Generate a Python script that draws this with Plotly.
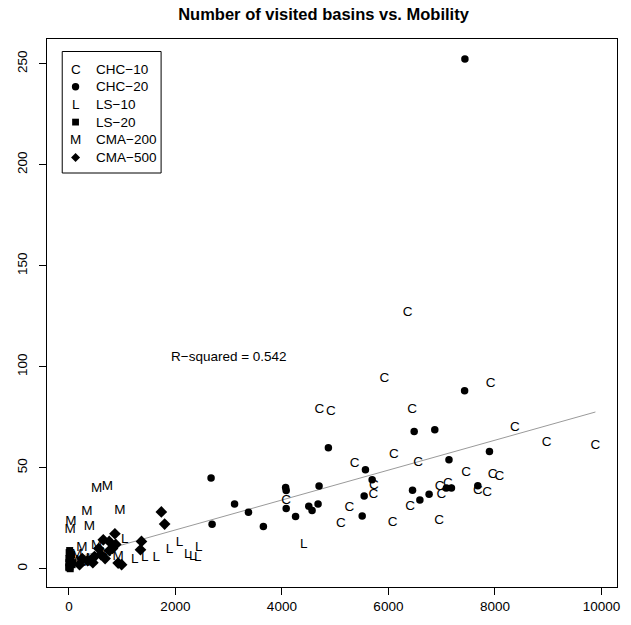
import plotly.graph_objects as go

# ---------------- data ----------------
CHC10_x = [6359, 5924, 7922, 4705, 4922, 6447, 8376, 8973, 9888, 6105, 5364, 6559, 7461, 7959,
           8084, 5725, 5719, 6964, 7119, 6994, 7679, 7853, 6410, 5265, 5108, 6079, 6951, 4081]
CHC10_y = [126.8, 93.9, 91.5, 78.7, 77.8, 78.7, 69.6, 62.2, 61.0, 56.4, 51.8, 52.6, 47.6, 46.5,
           45.7, 41.1, 36.6, 40.7, 42.1, 36.6, 38.6, 37.5, 30.8, 30.0, 22.1, 22.9, 23.7, 33.8]

CHC20_x = [7437, 7431, 6484, 6871, 4873, 2670, 5569, 7138, 7898, 5695, 4698, 4070, 4081, 4081, 4257,
           3111, 3372, 2689, 3652, 4679, 4505, 4567, 6453, 6591, 6764, 7090, 7184, 7679, 5508, 5545]
CHC20_y = [252.3, 88.1, 67.9, 68.8, 59.9, 44.9, 49.0, 53.9, 58.0, 44.0, 40.9, 40.2, 38.7, 29.8, 25.9,
           32.0, 27.9, 22.0, 20.9, 32.0, 30.9, 28.8, 38.9, 34.0, 36.8, 39.9, 39.9, 41.1, 26.1, 36.0]

LS10_x = [4412, 1051, 2078, 2438, 2233, 2326, 1891, 1643, 1238, 1425, 2420]
LS10_y = [12.1, 14.3, 12.7, 10.2, 6.9, 6.1, 9.4, 5.3, 4.5, 5.3, 5.3]

LS20_x = [0, 0, 0, 5, 10, 20, 30, 40, 60, 80, 0, 15, 50, 25]
LS20_y = [1, 3, 5, 8, 2, 1, 4, 6, 2, 3, 0.5, 9, 7, 0]

CMA200_x = [523, 721, 336, 958, 37, 24, 385, 243, 523, 925, 150, 420, 700, 90, 300]
CMA200_y = [39.4, 40.7, 28.1, 28.7, 23.3, 19.3, 20.6, 10.6, 11.4, 6.0, 7, 5, 8, 4, 3]

CMA500_x = [1736, 1798, 864, 646, 758, 1363, 1344, 925, 990, 600, 680, 760, 350, 450, 250,
            880, 820, 560, 480, 200]
CMA500_y = [28.1, 22.1, 17.3, 14.3, 13.5, 13.5, 9.4, 2.8, 2.0, 7, 5, 9, 4, 3, 5,
            12, 10, 10, 6, 2]

FIT_INTERCEPT = 4.4
FIT_SLOPE = 0.0074
R_SQUARED = 0.542

X_TICKS = [0, 2000, 4000, 6000, 8000, 10000]
Y_TICKS = [0, 50, 100, 150, 200, 250]

LEGEND_LABELS = ["CHC\u221210", "CHC\u221220", "LS\u221210", "LS\u221220", "CMA\u2212200", "CMA\u2212500"]

FONT = "Liberation Sans, Arial, Helvetica, sans-serif"
FS = 13.5

# ---------------- figure ----------------
W, H = 631, 625
ML, MR, MT, MB = 47, 11, 39, 38
PW, PH = W - ML - MR, H - MT - MB

fig = go.Figure()

all_x = CHC10_x + CHC20_x + LS10_x + LS20_x + CMA200_x + CMA500_x
fx = [min(all_x), max(all_x)]
fig.add_trace(go.Scatter(x=fx, y=[FIT_INTERCEPT + FIT_SLOPE * v for v in fx], mode="lines",
                         line=dict(color="#9a9a9a", width=1), showlegend=False, hoverinfo="skip"))

def text_trace(xs, ys, ch):
    return go.Scatter(x=xs, y=ys, mode="text", text=[ch] * len(xs), textposition="middle center",
                      textfont=dict(family=FONT, size=FS, color="black"), showlegend=False)

def marker_trace(xs, ys, sym, size):
    return go.Scatter(x=xs, y=ys, mode="markers",
                      marker=dict(symbol=sym, size=size, color="black", line=dict(width=0)),
                      showlegend=False)

fig.add_trace(text_trace(CHC10_x, CHC10_y, "C"))
fig.add_trace(marker_trace(CHC20_x, CHC20_y, "circle", 7.5))
fig.add_trace(text_trace(LS10_x, LS10_y, "L"))
fig.add_trace(marker_trace(LS20_x, LS20_y, "square", 7))
fig.add_trace(text_trace(CMA200_x, CMA200_y, "M"))
fig.add_trace(marker_trace(CMA500_x, CMA500_y, "diamond", 9))

fig.add_annotation(x=3000, y=105, xref="x", yref="y", text=f"R\u2212squared = {R_SQUARED}",
                   showarrow=False, font=dict(family=FONT, size=FS, color="black"))

# ---------------- manual legend ----------------
def px2paper(px, py):
    return (px - ML) / PW, (H - MB - py) / PH

bx0, by0 = px2paper(62.3, 51.5)
bx1, by1 = px2paper(161.7, 173)
fig.add_shape(type="rect", xref="paper", yref="paper", x0=bx0, x1=bx1, y0=by1, y1=by0,
              line=dict(color="black", width=1), fillcolor="white", layer="above")

row_y = [69, 86.7, 104.4, 122.1, 139.8, 157.5]
sym_x = 75.7
txt_x = 94
kinds = ["C", "circle", "L", "square", "M", "diamond"]
for lab, ry, kind in zip(LEGEND_LABELS, row_y, kinds):
    sx, sy = px2paper(sym_x, ry)
    if kind in ("C", "L", "M"):
        fig.add_annotation(x=sx, y=sy, xref="paper", yref="paper", text=kind, showarrow=False,
                           font=dict(family=FONT, size=FS, color="black"),
                           xanchor="center", yanchor="middle")
    elif kind == "circle":
        fig.add_shape(type="circle", xref="paper", yref="paper", xsizemode="pixel", ysizemode="pixel",
                      xanchor=sx, yanchor=sy, x0=-3.7, x1=3.7, y0=-3.7, y1=3.7,
                      fillcolor="black", line=dict(width=0), layer="above")
    elif kind == "square":
        fig.add_shape(type="rect", xref="paper", yref="paper", xsizemode="pixel", ysizemode="pixel",
                      xanchor=sx, yanchor=sy, x0=-3.4, x1=3.4, y0=-3.4, y1=3.4,
                      fillcolor="black", line=dict(width=0), layer="above")
    else:
        fig.add_shape(type="path", xref="paper", yref="paper", xsizemode="pixel", ysizemode="pixel",
                      xanchor=sx, yanchor=sy, path="M -4.5 0 L 0 4.5 L 4.5 0 L 0 -4.5 Z",
                      fillcolor="black", line=dict(width=0), layer="above")
    tx, ty = px2paper(txt_x, ry)
    fig.add_annotation(x=tx, y=ty, xref="paper", yref="paper", text=lab, showarrow=False,
                       font=dict(family=FONT, size=FS, color="black"),
                       xanchor="left", yanchor="middle")

axis_common = dict(showgrid=False, zeroline=False, showline=True, mirror=True, linecolor="black",
                   linewidth=1, ticks="outside", ticklen=7, tickcolor="black", tickwidth=1,
                   tickfont=dict(family=FONT, size=FS, color="black"))

fig.update_layout(
    width=W, height=H,
    margin=dict(l=ML, r=MR, t=MT, b=MB, pad=0),
    paper_bgcolor="white", plot_bgcolor="white",
    showlegend=False,
    title=dict(text="<b>Number of visited basins vs. Mobility</b>", x=(325 - ML) / PW, xref="paper",
               y=1 - 14 / H, yref="container", xanchor="center", yanchor="middle",
               font=dict(family=FONT, size=16.5, color="black")),
    xaxis=dict(range=[-411, 10293], tickvals=X_TICKS, ticktext=[str(v) for v in X_TICKS], **axis_common),
    yaxis=dict(range=[-9.05, 262.2], tickvals=Y_TICKS, ticktext=[str(v) for v in Y_TICKS],
               tickangle=-90, ticklabelstandoff=7, **axis_common),
)

fig.write_html("out.html")
